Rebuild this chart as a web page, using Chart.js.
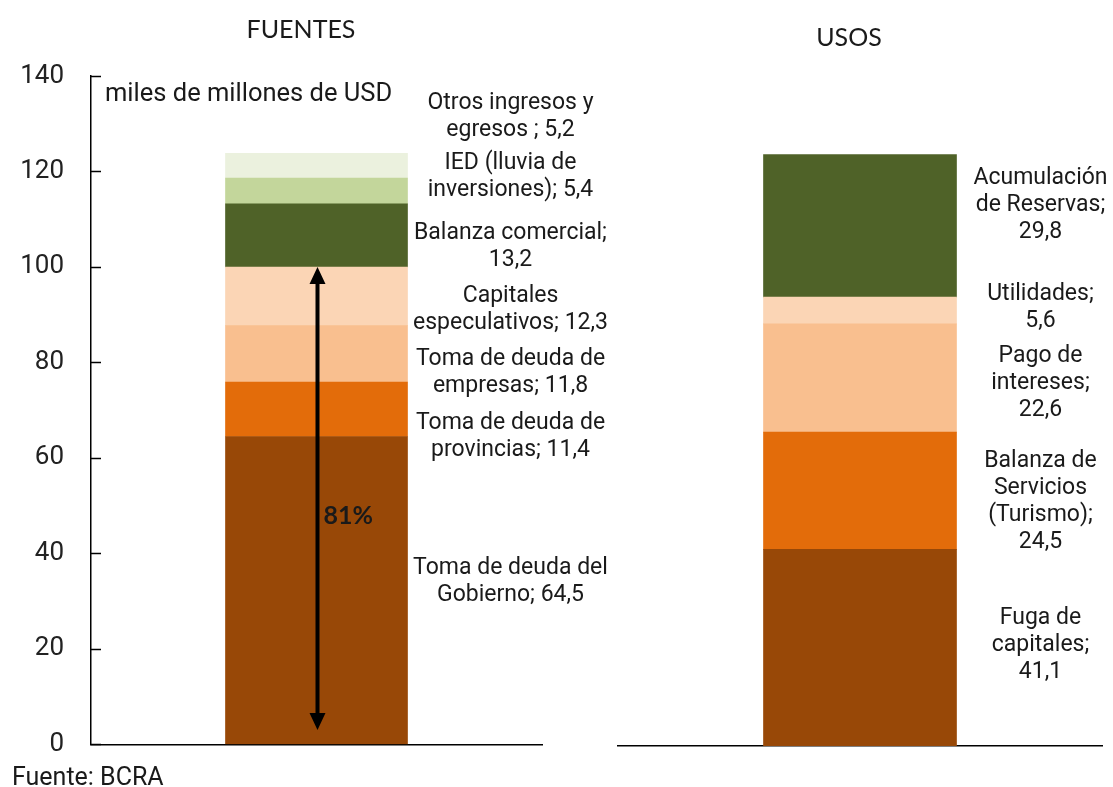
<!DOCTYPE html>
<html>
<head>
<meta charset="utf-8">
<script src="https://cdn.jsdelivr.net/npm/chart.js@4.4.1/dist/chart.umd.min.js"></script>
<style>
  html, body { margin: 0; padding: 0; background: #fff; }
  #wrap { position: relative; width: 1113px; height: 787px; }
  #wrap canvas { position: absolute; left: 0; top: 0; }
</style>
</head>
<body>
<div id="wrap">
  <canvas id="fuentes" width="1113" height="787"></canvas>
  <canvas id="usos" width="1113" height="787"></canvas>
</div>
<script>
// ---- data ----
const yTicks = [0, 20, 40, 60, 80, 100, 120, 140];

const fuentesTitle = "FUENTES";
const fuentesNames = [
  ["Toma de deuda del", "Gobierno; {v}"],
  ["Toma de deuda de", "provincias; {v}"],
  ["Toma de deuda de", "empresas; {v}"],
  ["Capitales", "especulativos; {v}"],
  ["Balanza comercial;", "{v}"],
  ["IED (lluvia de", "inversiones); {v}"],
  ["Otros ingresos y", "egresos ; {v}"]
];
const fuentesValues = [64.5, 11.4, 11.8, 12.3, 13.2, 5.4, 5.2];
const fuentesLabelAt = [34.1, 64.5, 77.8, 91.1, 104.3, 118.8, 131.5]; // label centres, data units

const usosTitle = "USOS";
const usosNames = [
  ["Fuga de", "capitales;", "{v}"],
  ["Balanza de", "Servicios", "(Turismo);", "{v}"],
  ["Pago de", "intereses;", "{v}"],
  ["Utilidades;", "{v}"],
  ["Acumulación", "de Reservas;", "{v}"]
];
const usosValues = [41.1, 24.5, 22.6, 5.6, 29.8];
const usosLabelAt = [21.1, 51.1, 75.7, 91.5, 113.0];

const unitText = "miles de millones de USD";
const sourceText = "Fuente: BCRA";
const arrowFrom = 100, arrowTo = 3;   // double arrow over the debt block
const shareText = "81%", shareAt = 47.8;

// ---- colours ----
const fuentesColors = ["#984807", "#E36C0A", "#F9BF8F", "#FBD5B5", "#4F6228", "#C3D69B", "#EBF1DE"];
const usosColors = ["#984807", "#E36C0A", "#F9BF8F", "#FBD5B5", "#4F6228"];
const textColor = "#1a1a1a";

const fmt = v => v.toFixed(1).replace(".", ",");

// draws the side labels, title, inward ticks and extras
const annotate = {
  id: "annotate",
  afterDraw(chart, args, o) {
    const { ctx, scales: { y } } = chart;
    const meta = chart.getDatasetMeta(0);
    const bar = meta.data[0];
    const barRight = bar.x + bar.width / 2;
    ctx.save();

    // inward tick marks
    if (o.ticks) {
      ctx.strokeStyle = "#000";
      ctx.lineWidth = 1.5;
      yTicks.forEach(t => {
        const py = Math.round(y.getPixelForValue(t)) + 0.5;
        ctx.beginPath();
        ctx.moveTo(chart.chartArea.left, py);
        ctx.lineTo(chart.chartArea.left + 10, py);
        ctx.stroke();
      });
    }

    // segment labels
    ctx.fillStyle = textColor;
    ctx.font = "23px Roboto";
    ctx.textAlign = "center";
    ctx.textBaseline = "middle";
    const lh = 27;
    o.names.forEach((lines, i) => {
      const txt = lines.map(s => s.replace("{v}", fmt(o.values[i])));
      const yc = y.getPixelForValue(o.labelAt[i]);
      const y0 = yc - (txt.length - 1) * lh / 2;
      txt.forEach((s, k) => ctx.fillText(s, barRight + o.labelGap, y0 + k * lh));
    });

    // title
    ctx.font = "25px Lato";
    ctx.fillText(o.title, o.titleX, o.titleY);

    if (o.extras) {
      ctx.textAlign = "left";
      ctx.textBaseline = "alphabetic";
      ctx.font = "25.5px Roboto";
      ctx.fillText(unitText, 105, 101);
      ctx.font = "25px Roboto";
      ctx.fillText(sourceText, 12, 785);

      // double arrow
      const ax = bar.x + 1;
      const top = y.getPixelForValue(arrowFrom);
      const bot = y.getPixelForValue(arrowTo);
      ctx.strokeStyle = "#000";
      ctx.fillStyle = "#000";
      ctx.lineWidth = 4;
      ctx.beginPath();
      ctx.moveTo(ax, top + 14);
      ctx.lineTo(ax, bot - 14);
      ctx.stroke();
      ctx.beginPath();
      ctx.moveTo(ax, top); ctx.lineTo(ax - 8, top + 17); ctx.lineTo(ax + 8, top + 17); ctx.closePath();
      ctx.fill();
      ctx.beginPath();
      ctx.moveTo(ax, bot); ctx.lineTo(ax - 8, bot - 17); ctx.lineTo(ax + 8, bot - 17); ctx.closePath();
      ctx.fill();

      ctx.font = "bold 25px Lato";
      ctx.textBaseline = "middle";
      ctx.fillStyle = textColor;
      ctx.fillText(shareText, ax + 6, y.getPixelForValue(shareAt));
    }
    ctx.restore();
  }
};

function makeChart(id, cat, values, colors, cfg) {
  const datasets = values.map((v, i) => ({
    label: cfg.names[i].join(" "),
    data: [v],
    backgroundColor: colors[i],
    borderWidth: 0,
    barThickness: cfg.barThickness,
    stack: "s"
  }));
  return new Chart(document.getElementById(id), {
    type: "bar",
    data: { labels: [cat], datasets },
    options: {
      responsive: false,
      animation: false,
      layout: { padding: cfg.padding },
      plugins: {
        legend: { display: false },
        tooltip: { enabled: false },
        annotate: cfg
      },
      scales: {
        x: {
          stacked: true,
          ticks: { display: false },
          grid: { display: false },
          border: { display: true, color: "#000", width: 1.5 },
          afterFit: s => { s.height = 0; }
        },
        y: {
          stacked: true,
          display: cfg.ticks,
          min: 0, max: 140,
          afterBuildTicks: s => { s.ticks = yTicks.map(v => ({ value: v })); },
          ticks: { font: { family: "Roboto", size: 26 }, color: "#222", padding: 27 },
          grid: { drawOnChartArea: false, drawTicks: false },
          border: { display: true, color: "#000", width: 1.5 },
          afterFit: s => { s.width = cfg.ticks ? 91 : 0; }
        }
      }
    },
    plugins: [annotate]
  });
}

makeChart("fuentes", fuentesTitle, fuentesValues, fuentesColors, {
  names: fuentesNames, values: fuentesValues, labelAt: fuentesLabelAt,
  title: fuentesTitle, titleX: 301, titleY: 30,
  labelGap: 103, barThickness: 182, ticks: true, extras: true,
  padding: { left: 0, top: 76, right: 571, bottom: 41 }
});

makeChart("usos", usosTitle, usosValues, usosColors, {
  names: usosNames, values: usosValues, labelAt: usosLabelAt,
  title: usosTitle, titleX: 849, titleY: 38,
  labelGap: 84, barThickness: 193, ticks: false, extras: false,
  padding: { left: 618, top: 76, right: 11, bottom: 41 }
});
</script>
</body>
</html>
